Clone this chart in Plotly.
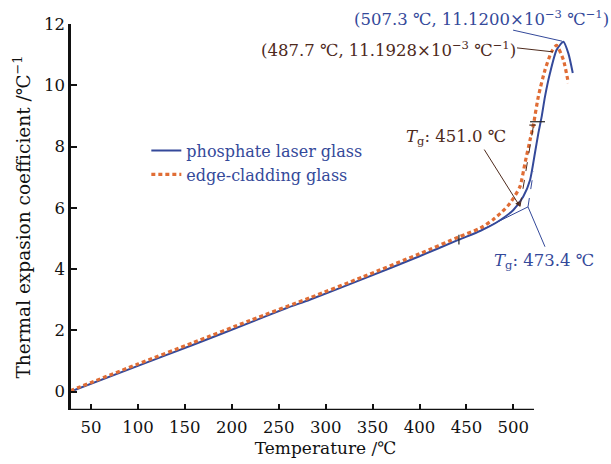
import plotly.graph_objects as go

# ---- data ----
T_blue = [28, 100, 159, 220, 258.5, 283, 340, 400, 442, 465, 482, 500, 510.6, 517.8,
          523, 526.6, 530, 533.7, 539, 546, 553.3, 558.6, 563.3]
a_blue = [0.0, 0.84, 1.53, 2.26, 2.73, 3.0, 3.68, 4.42, 4.96, 5.25, 5.52, 5.93, 6.37, 6.91,
          7.79, 8.43, 8.95, 9.63, 10.39, 11.15, 11.42, 11.04, 10.4]

T_edge = [28, 100, 159, 220, 283, 340, 400, 442, 465, 478.6, 488, 496.5, 507, 512.4,
          517.8, 521.3, 526.6, 533.7, 540.8, 546, 553.3, 558.6]
a_edge = [0.03, 0.9, 1.6, 2.33, 3.06, 3.75, 4.5, 5.05, 5.34, 5.62, 5.87, 6.15, 6.69, 7.46,
          8.22, 8.7, 9.63, 10.5, 11.1, 11.3, 10.83, 10.07]

x_ticks = [50, 100, 150, 200, 250, 300, 350, 400, 450, 500]
y_ticks = [0, 2, 4, 6, 8, 10, 12]

BLUE = "#34499a"
ORANGE = "#e06d35"
BROWN = "#4e2a1c"
FONT = "DejaVu Serif"

fig = go.Figure()
fig.add_trace(go.Scatter(x=T_blue, y=a_blue, mode="lines", name="phosphate laser glass",
                         line=dict(color=BLUE, width=2, shape="spline", smoothing=0.6)))
fig.add_trace(go.Scatter(x=T_edge, y=a_edge, mode="lines", name="edge-cladding glass",
                         line=dict(color=ORANGE, width=3.2, dash="4px,3px", shape="spline", smoothing=0.6)))

# tangent / leader lines (annotation graphics)
def seg(x0, y0, x1, y1, color, width=1, dash="solid"):
    fig.add_shape(type="line", x0=x0, y0=y0, x1=x1, y1=y1, xref="x", yref="y",
                  line=dict(color=color, width=width, dash=dash))

seg(462, 5.22, 515.6, 6.03, BLUE, 1)
seg(515.6, 6.03, 521.5, 7.2, BLUE, 1, "dash")
seg(515.6, 6.03, 533.7, 4.73, BLUE, 1)
seg(507.1, 6.04, 521.5, 8.7, BROWN, 1, "dash")
seg(499.7, 11.80, 551.9, 11.44, BLUE, 1)
seg(503.9, 11.22, 542.3, 11.09, BROWN, 1)
seg(442, 4.80, 442, 5.12, "#222222", 1.2)
seg(517.8, 8.81, 533.7, 8.81, "#222222", 1.2)
seg(517.0, 8.70, 524.0, 8.70, BROWN, 1.2)

# x-axis line (ends at 522 like the reference)
seg(28.7, -0.6, 522, -0.6, "#111111", 2.5)

ann_font = dict(family=FONT, size=16.5)
fig.add_annotation(x=1.061, y=1.0155, xref="paper", yref="paper", xanchor="right", yanchor="middle",
                   text="(507.3 ℃, 11.1200×10<sup>−3</sup> ℃<sup>−1</sup>)", showarrow=False,
                   font=dict(color=BLUE, **ann_font))
fig.add_annotation(x=504.5, y=11.2, xref="x", yref="y", xanchor="right", yanchor="middle",
                   text="(487.7 ℃, 11.1928×10<sup>−3</sup> ℃<sup>−1</sup>)", showarrow=False,
                   font=dict(color=BROWN, **ann_font))
fig.add_annotation(x=507.1, y=6.04, ax=468, ay=7.95, xref="x", yref="y", axref="x", ayref="y",
                   text="", showarrow=True, arrowhead=2, arrowsize=1, arrowwidth=1, arrowcolor=BROWN)
fig.add_annotation(x=494.3, y=8.31, xref="x", yref="y", xanchor="right", yanchor="middle",
                   text="<i>T</i><sub>g</sub>: 451.0 ℃", showarrow=False,
                   font=dict(color=BROWN, **ann_font))
fig.add_annotation(x=477.3, y=4.24, xref="x", yref="y", xanchor="left", yanchor="middle",
                   text="<i>T</i><sub>g</sub>: 473.4 ℃", showarrow=False,
                   font=dict(color=BLUE, **ann_font))

fig.update_layout(
    width=611, height=464,
    margin=dict(l=71, r=31, t=24, b=54),
    paper_bgcolor="white", plot_bgcolor="white",
    font=dict(family=FONT, size=16, color="#111111"),
    showlegend=True,
    legend=dict(x=0.148, y=0.716, xanchor="left", yanchor="top", bgcolor="rgba(0,0,0,0)",
                font=dict(family=FONT, size=16, color=BLUE), tracegroupgap=0, itemwidth=30),
    xaxis=dict(range=[28.7, 571], tickvals=x_ticks, ticks="inside", ticklen=6, tickwidth=1.5,
               tickcolor="#111111", showline=False, showgrid=False, zeroline=False,
               tickfont=dict(size=16.5), ticklabelstandoff=5, automargin=False,
               title=dict(text="Temperature /℃", font=dict(size=17), standoff=6)),
    yaxis=dict(range=[-0.6, 12.0], tickvals=y_ticks, ticks="inside", ticklen=6, tickwidth=1.5,
               tickcolor="#111111", showline=True, linewidth=2.5, linecolor="#111111",
               showgrid=False, zeroline=False, tickfont=dict(size=16.5), automargin=False,
               title=dict(text="Thermal expasion coefficient /℃<sup>−1</sup>", font=dict(size=18.5), standoff=9)),
)

fig.write_html("out.html")
